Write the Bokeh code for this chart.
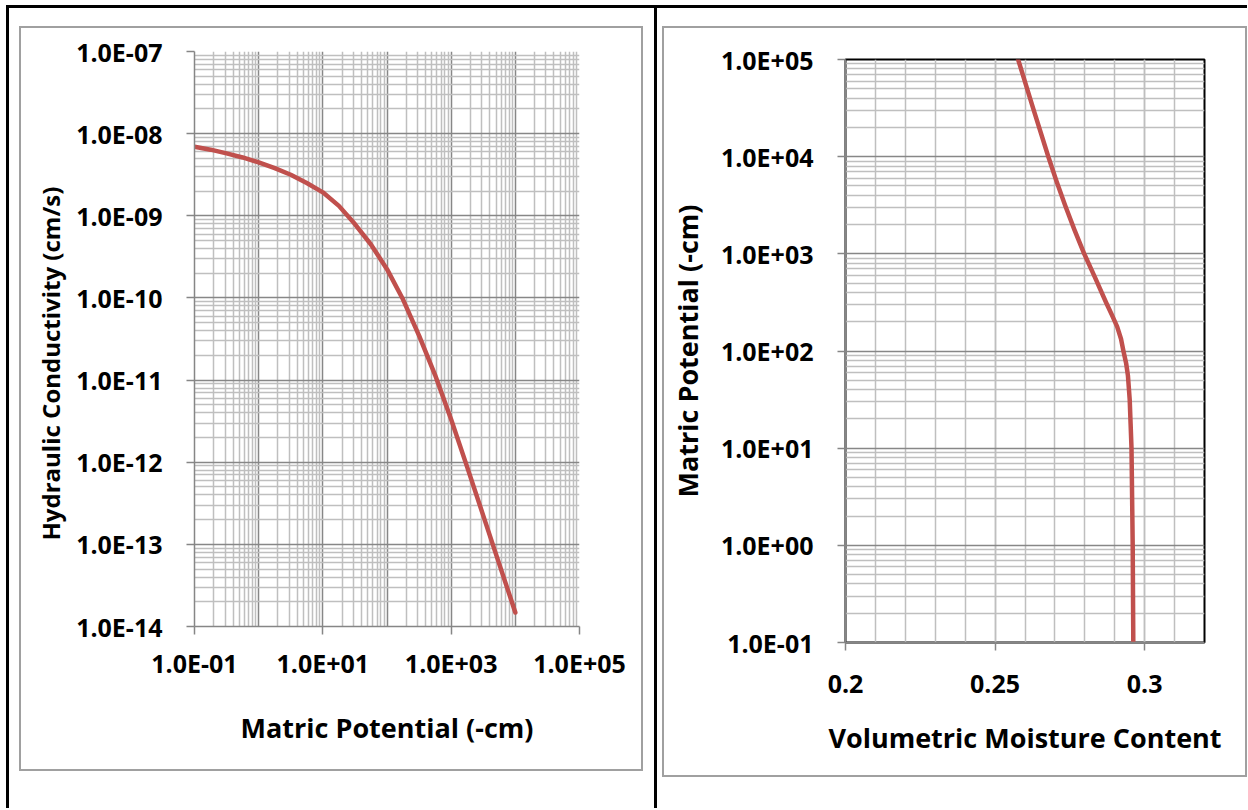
from bokeh.plotting import figure
from bokeh.layouts import row
from bokeh.models import FixedTicker, CustomJSTickFormatter, Div, Title
from bokeh.embed import file_html
from bokeh.resources import INLINE

# ---- hydraulic conductivity curve: matric potential (-cm) vs K (cm/s)
k_potential = [0.1, 0.178, 0.316, 0.562, 1.0, 1.78, 3.16, 5.62, 10.0, 17.8,
               31.6, 56.2, 100.0, 178.0, 316.0, 562.0, 1000.0, 1778.0,
               3162.0, 5623.0, 10000.0]
k_conductivity = [6.92e-9, 6.38e-9, 5.75e-9, 5.13e-9, 4.47e-9, 3.80e-9,
                  3.16e-9, 2.51e-9, 1.93e-9, 1.32e-9, 7.94e-10, 4.47e-10,
                  2.24e-10, 9.55e-11, 3.47e-11, 1.15e-11, 3.31e-12,
                  8.71e-13, 2.24e-13, 5.75e-14, 1.48e-14]

# ---- moisture retention curve: volumetric moisture content vs matric potential
r_potential = [0.1, 0.316, 1.0, 3.16, 10.0, 17.8, 31.6, 56.2, 75.0, 100.0,
               133.0, 178.0, 237.0, 316.0, 562.0, 1000.0, 1778.0, 3162.0,
               5623.0, 10000.0, 31623.0, 100000.0]
r_moisture = [0.2962, 0.2961, 0.2960, 0.2958, 0.2956, 0.2953, 0.2950,
              0.2944, 0.2938, 0.2929, 0.2921, 0.2908, 0.2890, 0.2871,
              0.2835, 0.2798, 0.2765, 0.2734, 0.2705, 0.2678, 0.2627,
              0.2577]

# axis ticks
k_x_labelled = [0.1, 10.0, 1e3, 1e5]
k_x_decades = [0.1, 1.0, 10.0, 100.0, 1e3, 1e4, 1e5]
k_y_decades = [1e-14, 1e-13, 1e-12, 1e-11, 1e-10, 1e-9, 1e-8, 1e-7]
r_x_ticks = [0.2, 0.25, 0.3]
r_x_tick_labels = ["0.2", "0.25", "0.3"]
r_y_decades = [0.1, 1.0, 10.0, 100.0, 1e3, 1e4, 1e5]

FONT = "Open Sans"
TICK_SIZE = "25px"
TITLE_SIZE = "27px"
CURVE = "#C0504D"
MAJOR_GRID = "#878787"
MINOR_GRID = "#BFBFBF"
AXIS_GRAY = "#868686"
CHART_GRAY = "#A0A0A0"
RULE = "3px solid black"

# plots in one row share their top/bottom border sizes
BORDER_TOP, BORDER_BOTTOM = 33, 153

sci = CustomJSTickFormatter(code="""
    const e = Math.round(Math.log10(tick));
    const s = e < 0 ? '-' : '+';
    const a = Math.abs(e);
    return '1.0E' + s + (a < 10 ? '0' : '') + a;
""")


def minors(decades):
    out = []
    for d in decades[:-1]:
        out += [d * k for k in range(2, 10)]
    return out


def style_axis(ax, standoff, title_standoff):
    ax.axis_line_color = AXIS_GRAY
    ax.axis_line_width = 1.5
    ax.major_tick_line_color = AXIS_GRAY
    ax.major_tick_line_width = 1.5
    ax.major_tick_out = 8
    ax.major_tick_in = 0
    ax.minor_tick_line_color = None
    ax.major_label_text_font = FONT
    ax.major_label_text_font_style = "bold"
    ax.major_label_text_font_size = TICK_SIZE
    ax.major_label_text_color = "black"
    ax.major_label_standoff = standoff
    ax.axis_label_text_font = FONT
    ax.axis_label_text_font_style = "bold"
    ax.axis_label_text_font_size = TITLE_SIZE
    ax.axis_label_text_color = "black"
    ax.axis_label_standoff = title_standoff


# ---------------- left chart: hydraulic conductivity ----------------
# canvas spans x 11..651, y 18..779 of the page; the chart border is an
# outline drawn 8px inside the canvas edge
X0, Y0, W1, H1 = 11, 18, 640, 761
p1 = figure(width=W1, height=H1, x_axis_type="log", y_axis_type="log",
            x_range=(0.1, 1e5), y_range=(1e-14, 1e-7), title=None,
            output_backend="svg", toolbar_location=None,
            min_border_left=194 - X0, min_border_right=X0 + W1 - 579,
            min_border_top=BORDER_TOP, min_border_bottom=BORDER_BOTTOM,
            background_fill_color="white", border_fill_color=None,
            outline_line_color=None,
            margin=(10, 3, 0, 2),
            styles={"outline": "2px solid " + CHART_GRAY,
                    "outline-offset": "-10px"})
p1.xaxis.ticker = FixedTicker(ticks=k_x_labelled)
p1.yaxis.ticker = FixedTicker(ticks=k_y_decades)
p1.xaxis.formatter = sci
p1.yaxis.formatter = sci
p1.xgrid.ticker = FixedTicker(ticks=k_x_decades, minor_ticks=minors(k_x_decades))
p1.ygrid.ticker = FixedTicker(ticks=k_y_decades, minor_ticks=minors(k_y_decades))
for g in (p1.xgrid, p1.ygrid):
    g.grid_line_color = MAJOR_GRID
    g.grid_line_width = 1.5
    g.minor_grid_line_color = MINOR_GRID
    g.minor_grid_line_width = 1.5
p1.xaxis.axis_label = "Matric Potential (-cm)"
style_axis(p1.xaxis[0], 11, 26)
style_axis(p1.yaxis[0], 24, 20)
p1.add_layout(Title(text="Hydraulic Conductivity (cm/s)", align="left",
                    offset=86, standoff=14, text_font=FONT,
                    text_font_style="bold", text_font_size="24px",
                    text_color="black"), "left")
p1.line(k_potential, k_conductivity, line_color=CURVE, line_width=4.5,
        line_join="round", line_cap="round")

# ---------------- right chart: moisture retention ----------------
# canvas spans x 662..1247, y 26..795; the chart box (x 662..1247,
# y 26..777) is four background stripes seen through the transparent
# canvas border area
X2, Y2, W2, H2 = 662, 26, 585, 769
BOX_H = 751
stripe = f"linear-gradient({CHART_GRAY}, {CHART_GRAY})"
p2 = figure(width=W2, height=H2, y_axis_type="log",
            x_range=(0.2, 0.32), y_range=(0.1, 1e5), title=None,
            output_backend="svg", toolbar_location=None,
            min_border_left=845 - X2, min_border_right=X2 + W2 - 1204,
            min_border_top=BORDER_TOP, min_border_bottom=BORDER_BOTTOM,
            background_fill_color="white", border_fill_color=None,
            outline_line_color="black", outline_line_width=2,
            margin=(18, 0, 0, 5),
            styles={"background-image": ", ".join([stripe] * 4),
                    "background-repeat": "no-repeat",
                    "background-size": f"100% 2px, 2px {BOX_H}px, "
                                       f"2px {BOX_H}px, 100% 2px",
                    "background-position": f"0px 0px, 0px 0px, "
                                           f"{W2 - 2}px 0px, 0px {BOX_H - 2}px"})
p2.xaxis.ticker = FixedTicker(ticks=r_x_ticks,
                              minor_ticks=[round(0.2 + 0.01 * i, 2) for i in range(13)])
p2.xaxis.major_label_overrides = dict(zip(r_x_ticks, r_x_tick_labels))
p2.yaxis.ticker = FixedTicker(ticks=r_y_decades)
p2.yaxis.formatter = sci
p2.ygrid.ticker = FixedTicker(ticks=r_y_decades, minor_ticks=minors(r_y_decades))
p2.xgrid.grid_line_color = MINOR_GRID
p2.xgrid.grid_line_width = 1.5
p2.xgrid.minor_grid_line_color = MINOR_GRID
p2.xgrid.minor_grid_line_width = 1.5
p2.ygrid.grid_line_color = MAJOR_GRID
p2.ygrid.grid_line_width = 1.5
p2.ygrid.minor_grid_line_color = MINOR_GRID
p2.ygrid.minor_grid_line_width = 1.5
p2.xaxis.axis_label = "Volumetric Moisture Content"
p2.yaxis.axis_label = "Matric Potential (-cm)"
style_axis(p2.xaxis[0], 24, 23)
style_axis(p2.yaxis[0], 24, 12)
p2.line(r_moisture, r_potential, line_color=CURVE, line_width=4.5,
        line_join="round", line_cap="round")

# black rule between the two cells
divider = Div(width=3, height=800, margin=(0, 0, 0, 0),
              styles={"background-color": "black"})

layout = row(p1, divider, p2, spacing=0, margin=(5, 0, 0, 6),
             styles={"border-top": RULE, "border-left": RULE})
open("out.html", "w").write(file_html(layout, INLINE))
